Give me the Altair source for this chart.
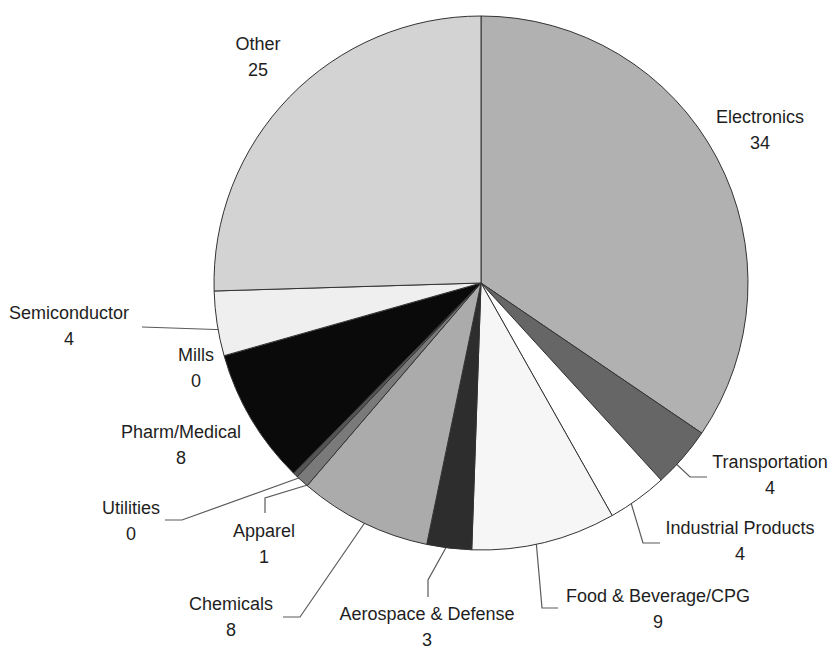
import altair as alt
import pandas as pd

# ---- data ----
categories = ["Electronics", "Transportation", "Industrial Products", "Food & Beverage/CPG",
              "Aerospace & Defense", "Chemicals", "Apparel", "Utilities", "Pharm/Medical",
              "Mills", "Semiconductor", "Other"]
values = [34.4, 3.7, 3.6, 8.7, 2.7, 8.0, 0.8, 0.3, 8.2, 0.0, 3.9, 25.4]
value_labels = ["34", "4", "4", "9", "3", "8", "1", "0", "8", "0", "4", "25"]

# ---- styles ----
slice_colors = ["#b1b1b1", "#666666", "#ffffff", "#f6f6f6", "#2d2d2d", "#ababab",
                "#7a7a7a", "#555555", "#0a0a0a", "#999999", "#efefef", "#d3d3d3"]

# ---- layout: pie centre / radius, label positions (first line), leader polylines ----
CX, CY, R = 481, 283, 267
label_pos = {
    "Electronics": (760, 118), "Transportation": (770, 463), "Industrial Products": (740, 529),
    "Food & Beverage/CPG": (658, 597), "Aerospace & Defense": (427, 615), "Chemicals": (231, 605),
    "Apparel": (264, 532), "Utilities": (131, 509), "Pharm/Medical": (181, 433),
    "Mills": (196, 356), "Semiconductor": (69, 314), "Other": (258, 45),
}
leaders = {
    "Transportation": [(670, 458), (690, 477), (707, 477)],
    "Industrial Products": [(629, 496), (643, 543), (660, 543)],
    "Food & Beverage/CPG": [(536, 540), (542, 608), (558, 608)],
    "Aerospace & Defense": [(448, 544), (428, 580), (428, 597)],
    "Chemicals": [(366, 521), (300, 617), (283, 617)],
    "Apparel": [(314, 483), (265, 498), (265, 513)],
    "Utilities": [(307, 475), (182, 520), (165, 520)],
    "Semiconductor": [(230, 330), (142, 327)],
}

pie_df = pd.DataFrame({"category": categories, "value": values, "idx": range(len(categories))})
lab_df = pd.DataFrame({
    "category": categories,
    "text": [f"{c}\n{v}" for c, v in zip(categories, value_labels)],
    "lx": [label_pos[c][0] for c in categories],
    "ly": [label_pos[c][1] for c in categories],
})
rows = []
for c, pts in leaders.items():
    for i, (x, y) in enumerate(pts):
        rows.append({"seg": c, "i": i, "x": x, "y": y})
lead_df = pd.DataFrame(rows)

lines = alt.Chart(lead_df).mark_line(stroke="#5a5a5a", strokeWidth=1.2).encode(
    x=alt.X("x:Q", scale=None, axis=None),
    y=alt.Y("y:Q", scale=None, axis=None),
    detail="seg:N",
    order="i:Q",
)

pie = alt.Chart(pie_df).mark_arc(radius=R, stroke="#333333", strokeWidth=1).encode(
    theta=alt.Theta("value:Q", stack=True),
    color=alt.Color("category:N", scale=alt.Scale(domain=categories, range=slice_colors), legend=None),
    order=alt.Order("idx:Q"),
    x=alt.value(CX),
    y=alt.value(CY),
)

labels = alt.Chart(lab_df).mark_text(
    font="Liberation Sans", fontSize=18, lineHeight=26, lineBreak="\n",
    align="center", baseline="middle", color="#1e1e1e",
).encode(
    x=alt.X("lx:Q", scale=None, axis=None),
    y=alt.Y("ly:Q", scale=None, axis=None),
    text="text:N",
)

chart = alt.layer(lines, pie, labels).properties(
    width=832, height=650, padding=0,
    autosize=alt.AutoSizeParams(type="none"),
    background="white",
).configure_view(stroke=None)

chart.save("out.html", embed_options={"renderer": "svg", "actions": False})
